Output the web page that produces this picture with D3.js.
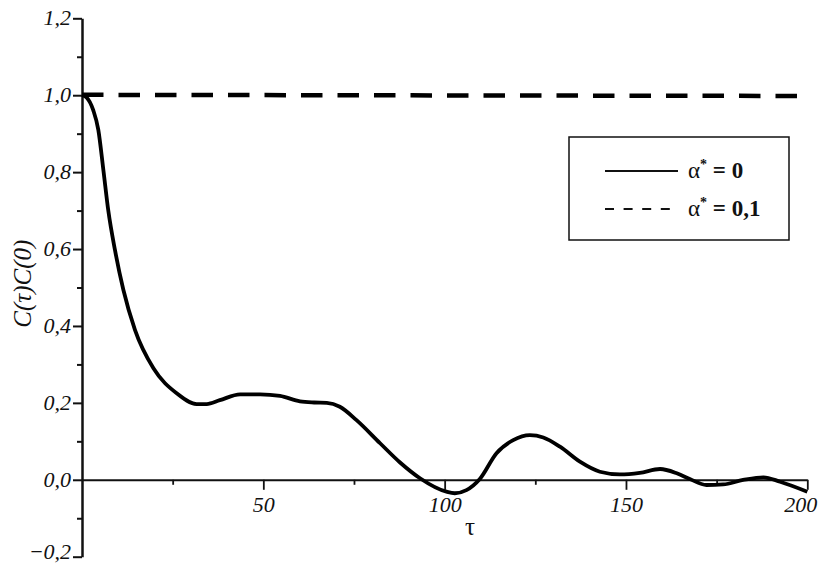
<!DOCTYPE html>
<html lang="en">
<head>
    <meta charset="UTF-8">
    <title>C(τ)C(0)</title>
    <script src="https://d3js.org/d3.v7.min.js"></script>
    <style>
        body {
            margin: 0;
            padding: 0;
            background-color: #fff;
        }
        .tick text {
            font-family: "Liberation Serif", "DejaVu Serif", serif;
            font-style: italic;
            font-size: 22px;
            fill: #111;
        }
        .legend-text {
            font-family: "Liberation Serif", "DejaVu Serif", serif;
            font-size: 23px;
            font-weight: bold;
            fill: #111;
        }
    </style>
</head>
<body>
    <svg id="chart" width="820" height="565"></svg>

    <script>
        // Data
        const tau = [0, 1.3, 3.1, 4.5, 5.9, 7.25, 9.1, 11.4, 14.6, 19.7, 26.1, 31.6, 34.4, 38, 43.6, 49.1,
            54.6, 60.1, 64, 67.5, 71.1, 75.7, 82.2, 87.7, 93.2, 100.5, 102.8, 106, 109.7, 114.3, 118.9,
            123.5, 127.2, 131.8, 137.3, 142.8, 148.3, 153.8, 159.4, 164, 167.6, 172.2, 176.8, 182.3,
            187.9, 192.5, 200];
        const alpha0 = [1.0, 0.994, 0.961, 0.91, 0.805, 0.70, 0.597, 0.494, 0.39, 0.29, 0.225, 0.197,
            0.197, 0.207, 0.222, 0.222, 0.218, 0.204, 0.201, 0.200, 0.190, 0.155, 0.095, 0.045, 0.004,
            -0.031, -0.035, -0.027, 0.002, 0.069, 0.103, 0.116, 0.110, 0.086, 0.047, 0.021, 0.014,
            0.018, 0.028, 0.017, 0.002, -0.0135, -0.012, -0.0005, 0.0065, -0.005, -0.031];
        const tauDashed = [0, 200];
        const alpha01 = [1.001, 0.998];

        const yMajor = [-0.2, 0, 0.2, 0.4, 0.6, 0.8, 1.0, 1.2];
        const yMinor = [-0.1, 0.1, 0.3, 0.5, 0.7, 0.9, 1.1];
        const xMajor = [50, 100, 150, 200];
        const xMinor = [25, 75, 125, 175];

        const legendValues = ['0', '0,1'];

        const svg = d3.select('#chart');

        const x = d3.scaleLinear().domain([0, 200]).range([82, 807.3]);
        const y = d3.scaleLinear().domain([-0.2, 1.2]).range([556.7, 18.3]);

        const fmt = d => d3.format('.1f')(d).replace('.', ',').replace('-', '−');

        // Y axis: minor ticks then major ticks
        svg.append('g')
            .attr('transform', `translate(${x(0)},0)`)
            .call(d3.axisLeft(y).tickValues(yMinor).tickSize(5).tickSizeOuter(0).tickFormat(''))
            .call(g => g.select('.domain').remove())
            .selectAll('line').attr('stroke', '#111').attr('stroke-width', 2);

        const yAxis = svg.append('g')
            .attr('transform', `translate(${x(0)},0)`)
            .call(d3.axisLeft(y).tickValues(yMajor).tickSize(9).tickSizeOuter(0).tickPadding(2).tickFormat(fmt));
        yAxis.select('.domain').attr('stroke', '#111').attr('stroke-width', 2.5);
        yAxis.selectAll('line').attr('stroke', '#111').attr('stroke-width', 2);
        yAxis.selectAll('.tick text').attr('dy', d => d < 0 ? '0.1em' : '0.3em');

        // X axis at y = 0
        svg.append('g')
            .attr('transform', `translate(0,${y(0)})`)
            .call(d3.axisBottom(x).tickValues(xMinor).tickSize(5).tickSizeOuter(0).tickFormat(''))
            .call(g => g.select('.domain').remove())
            .selectAll('line').attr('stroke', '#111').attr('stroke-width', 1.8);

        const xAxis = svg.append('g')
            .attr('transform', `translate(0,${y(0)})`)
            .call(d3.axisBottom(x).tickValues(xMajor).tickSize(10).tickSizeOuter(0).tickPadding(7).tickFormat(d3.format('d')));
        xAxis.select('.domain').attr('stroke', '#111').attr('stroke-width', 2);
        xAxis.selectAll('line').attr('stroke', '#111').attr('stroke-width', 1.8);
        xAxis.selectAll('.tick text').filter(d => d === 200).attr('dx', -7);

        // Axis titles
        svg.append('text')
            .attr('transform', `translate(31,${y(0.51)}) rotate(-90)`)
            .attr('text-anchor', 'middle')
            .attr('font-family', '"Liberation Serif", "DejaVu Serif", serif')
            .attr('font-style', 'italic')
            .attr('font-size', 25)
            .attr('fill', '#111')
            .text('C(τ)C(0)');

        svg.append('text')
            .attr('x', 470)
            .attr('y', 535)
            .attr('text-anchor', 'middle')
            .attr('font-family', '"Liberation Serif", "DejaVu Serif", serif')
            .attr('font-size', 25)
            .attr('fill', '#111')
            .text('τ');

        // Curves
        const line = d3.line()
            .x(d => x(d[0]))
            .y(d => y(d[1]))
            .curve(d3.curveMonotoneX);

        svg.append('path')
            .datum(tauDashed.map((t, i) => [t, alpha01[i]]))
            .attr('d', d3.line().x(d => x(d[0])).y(d => y(d[1])))
            .attr('fill', 'none')
            .attr('stroke', '#000')
            .attr('stroke-width', 4.5)
            .attr('stroke-dasharray', '21.5,15');

        svg.append('path')
            .datum(tau.map((t, i) => [t, alpha0[i]]))
            .attr('d', line)
            .attr('fill', 'none')
            .attr('stroke', '#000')
            .attr('stroke-width', 3.8)
            .attr('stroke-linejoin', 'round');

        // Legend
        const legend = svg.append('g');
        legend.append('rect')
            .attr('x', 569)
            .attr('y', 137)
            .attr('width', 220)
            .attr('height', 103)
            .attr('fill', '#fff')
            .attr('stroke', '#111')
            .attr('stroke-width', 1.5);

        legendValues.forEach((v, i) => {
            const ly = 171 + i * 38;
            legend.append('line')
                .attr('x1', 605).attr('x2', 678)
                .attr('y1', ly).attr('y2', ly)
                .attr('stroke', '#111')
                .attr('stroke-width', 2)
                .attr('stroke-dasharray', i === 0 ? null : '9,9.6');
            const t = legend.append('text')
                .attr('class', 'legend-text')
                .attr('x', 688)
                .attr('y', ly + 7);
            t.append('tspan').attr('font-weight', 'normal').text('α');
            t.append('tspan').attr('font-size', 14).attr('dy', -9).text('*');
            t.append('tspan').attr('dy', 9).text(' = ' + v);
        });
    </script>
</body>
</html>
